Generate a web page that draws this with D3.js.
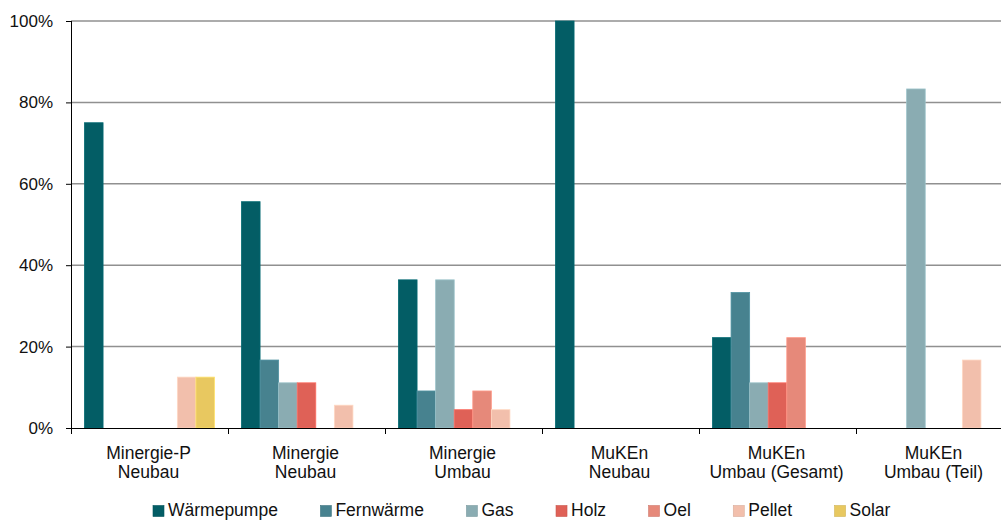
<!DOCTYPE html>
<html>
<head>
<meta charset="utf-8">
<script src="https://cdn.jsdelivr.net/npm/d3@7"></script>
<style>
  html, body { margin: 0; padding: 0; background: #fff; }
  svg { display: block; }
  text { font-family: "Liberation Sans", Arial, sans-serif; fill: #111; }
</style>
</head>
<body>
<svg id="chart" width="1001" height="520"></svg>
<script>
// ---- data ----
const categories = [
  ["Minergie-P", "Neubau"],
  ["Minergie", "Neubau"],
  ["Minergie", "Umbau"],
  ["MuKEn", "Neubau"],
  ["MuKEn", "Umbau (Gesamt)"],
  ["MuKEn", "Umbau (Teil)"]
];
const seriesNames = ["Wärmepumpe", "Fernwärme", "Gas", "Holz", "Oel", "Pellet", "Solar"];
const seriesColors = ["#035d65", "#47828f", "#8aacb2", "#df6157", "#e6897a", "#f2bfac", "#e8c860"];
const waermepumpe = [75.0, 55.6, 36.4, 100.0, 22.2, 0];
const fernwaerme  = [0, 16.7, 9.1, 0, 33.3, 0];
const gas         = [0, 11.1, 36.4, 0, 11.1, 83.3];
const holz        = [0, 11.1, 4.5, 0, 11.1, 0];
const oel         = [0, 0, 9.1, 0, 22.2, 0];
const pellet      = [12.5, 5.6, 4.5, 0, 0, 16.7];
const solar       = [12.5, 0, 0, 0, 0, 0];
const yTicks = [0, 20, 40, 60, 80, 100];

const seriesValues = [waermepumpe, fernwaerme, gas, holz, oel, pellet, solar];

// ---- layout ----
const svg = d3.select("#chart");
const plotLeft = 71, plotTop = 21, plotBottom = 428, groupW = 157;
const catKeys = categories.map((c, i) => i);

const x0 = d3.scaleBand().domain(catKeys).range([plotLeft, plotLeft + groupW * categories.length]).paddingInner(0).paddingOuter(0);
const x1 = d3.scaleBand().domain(seriesNames).range([0, groupW]).paddingInner(0).paddingOuter(0.726);
const y = d3.scaleLinear().domain([0, 100]).range([plotBottom, plotTop]);

// gridlines
svg.append("g").selectAll("line").data(yTicks.filter(d => d > 0)).join("line")
  .attr("x1", plotLeft).attr("x2", 1001)
  .attr("y1", d => y(d)).attr("y2", d => y(d))
  .attr("stroke", "#909090").attr("stroke-width", 1.5);

// bars
const groups = svg.append("g").selectAll("g").data(catKeys).join("g")
  .attr("transform", d => `translate(${x0(d)},0)`);
groups.selectAll("rect")
  .data(ci => seriesNames.map((s, si) => ({ s, si, v: seriesValues[si][ci] })).filter(d => d.v > 0))
  .join("rect")
  .attr("x", d => x1(d.s))
  .attr("width", x1.bandwidth())
  .attr("y", d => y(d.v))
  .attr("height", d => y(0) - y(d.v))
  .attr("fill", d => seriesColors[d.si])
  .attr("stroke", d => d3.color(seriesColors[d.si]).brighter(0.35))
  .attr("stroke-width", 0.8);

// y axis
const yAxis = d3.axisLeft(y).tickValues(yTicks).tickFormat(d => d + "%").tickSize(5).tickPadding(13);
const gy = svg.append("g").attr("transform", `translate(${plotLeft},0)`).call(yAxis);
gy.select(".domain").attr("stroke", "#000").attr("d", `M0.5,${plotTop}V${plotBottom}`);
gy.selectAll(".tick line").attr("stroke", "#000");
gy.selectAll(".tick text").attr("font-size", 17).attr("font-family", "Liberation Sans, Arial, sans-serif").attr("fill", "#111");

// x axis
const xAxisLine = svg.append("g");
xAxisLine.append("line").attr("x1", plotLeft).attr("x2", 1001).attr("y1", plotBottom + 0.5).attr("y2", plotBottom + 0.5).attr("stroke", "#000");
xAxisLine.selectAll("line.tk").data(catKeys).join("line").attr("class", "tk")
  .attr("x1", d => x0(d) + 0.5).attr("x2", d => x0(d) + 0.5)
  .attr("y1", plotBottom).attr("y2", plotBottom + 6).attr("stroke", "#000");

// category labels
const labels = svg.append("g").selectAll("text").data(catKeys).join("text")
  .attr("x", d => x0(d) + x0.bandwidth() / 2 - 1)
  .attr("text-anchor", "middle")
  .attr("font-size", 17.5);
labels.each(function (d) {
  const t = d3.select(this);
  categories[d].forEach((line, li) => {
    t.append("tspan").attr("x", x0(d) + x0.bandwidth() / 2 - 1).attr("y", 459 + li * 19).text(line);
  });
});

// legend
const legend = svg.append("g");
let lx = 153;
seriesNames.forEach((name, i) => {
  legend.append("rect").attr("x", lx).attr("y", 505.5).attr("width", 11).attr("height", 11)
    .attr("fill", seriesColors[i]).attr("stroke", d3.color(seriesColors[i]).darker(0.3)).attr("stroke-width", 0.6);
  const t = legend.append("text").attr("x", lx + 15).attr("y", 516).attr("font-size", 17.5).text(name);
  lx += 15 + t.node().getComputedTextLength() + 42.5;
});
</script>
</body>
</html>
